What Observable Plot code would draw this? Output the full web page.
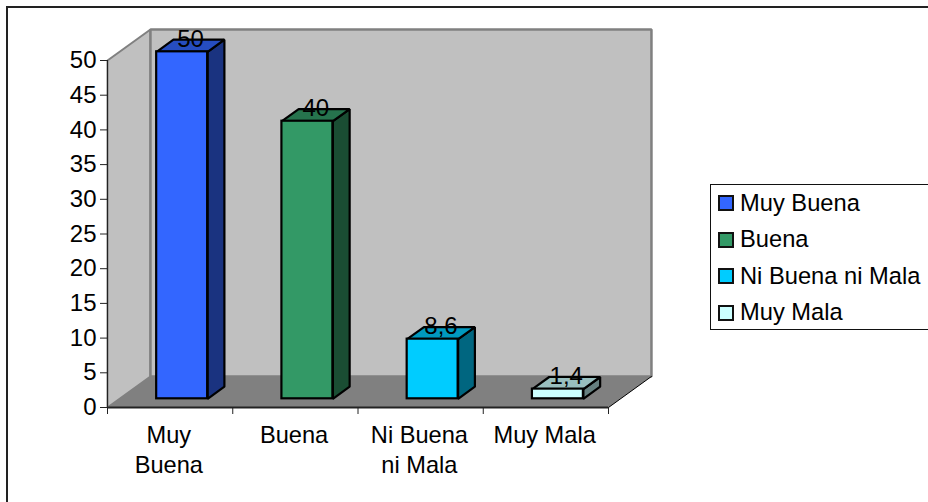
<!DOCTYPE html>
<html>
<head>
<meta charset="utf-8">
<script src="https://cdn.jsdelivr.net/npm/d3@7"></script>
<script src="https://cdn.jsdelivr.net/npm/@observablehq/plot@0.6"></script>
<style>
  html, body { margin: 0; padding: 0; background: #fff; overflow: hidden; width: 928px; height: 502px; }
  #stage { position: relative; width: 928px; height: 502px; font-family: "Liberation Sans", Arial, sans-serif; color: #000; }
  #frame { position: absolute; left: 6px; top: 6px; width: 940px; height: 520px; border-left: 2px solid #222; border-top: 2px solid #222; box-sizing: border-box; }
  #legend { position: absolute; left: 710px; top: 184px; width: 240px; height: 146px; border: 1px solid #111; box-sizing: border-box; background: #fff; }
  .row { position: absolute; left: 7px; height: 20px; display: flex; align-items: center; font-size: 23.7px; white-space: nowrap; }
  .sw { width: 16px; height: 16px; border: 2px solid #111; box-sizing: border-box; margin-right: 6px; }
  svg { position: absolute; left: 0; top: 0; }
</style>
</head>
<body>
<div id="stage"><div id="frame"></div></div>
<script>
const categories = ["Muy Buena", "Buena", "Ni Buena ni Mala", "Muy Mala"];
const axisLabels = ["Muy\nBuena", "Buena", "Ni Buena\nni Mala", "Muy Mala"];
const values = [50, 40, 8.6, 1.4];
const valueLabels = ["50", "40", "8,6", "1,4"];
const colors = ["#3366ff", "#339966", "#00ccff", "#ccffff"];
const yTicks = [0, 5, 10, 15, 20, 25, 30, 35, 40, 45, 50];
const xTicks = [0, 1, 2, 3, 4];

const depthX = 0.343, depthY = 4.47;
const barStart = 0.28, barDepth = 0.39, barWidth = 0.407;

const shade = (c, k) => { const r = d3.rgb(c); return d3.rgb(r.r * k, r.g * k, r.b * k).formatHex(); };
const poly = (pts, fill, stroke, strokeWidth) => Plot.line(pts, {
  x: d => d[0], y: d => d[1], fill, stroke, strokeWidth, curve: "linear-closed", strokeLinejoin: "miter"
});

const barMarks = values.flatMap((v, i) => {
  const x0 = i + 0.5 - barWidth / 2 + barStart * depthX;
  const x1 = x0 + barWidth;
  const y0 = barStart * depthY;
  const yT = v + y0;
  const dx = barDepth * depthX, dy = barDepth * depthY;
  const c = colors[i];
  return [
    poly([[x1, y0], [x1 + dx, y0 + dy], [x1 + dx, yT + dy], [x1, yT]], shade(c, 0.5), "#000", 2.2),
    poly([[x0, yT], [x1, yT], [x1 + dx, yT + dy], [x0 + dx, yT + dy]], shade(c, 0.75), "#000", 2.2),
    Plot.rect([v], { x1: x0, x2: x1, y1: y0, y2: yT, fill: c, stroke: "#000", strokeWidth: 2.2 })
  ];
});

const chart = Plot.plot({
  width: 928, height: 502,
  margin: 0,
  style: { background: "transparent", fontFamily: "Liberation Sans, Arial, sans-serif", color: "#000" },
  x: { domain: [0, 4], range: [107, 608] },
  y: { domain: [0, 50], range: [407, 60] },
  marks: [
    poly([[0, 0], [depthX, depthY], [depthX, 50 + depthY], [0, 50]], "#c0c0c0", "#808080", 2),
    poly([[depthX, depthY], [4 + depthX, depthY], [4 + depthX, 50 + depthY], [depthX, 50 + depthY]], "#c0c0c0", "#808080", 2.5),
    poly([[0, 0], [4, 0], [4 + depthX, depthY], [depthX, depthY]], "#808080", "none", 0),
    Plot.line([[4, 0], [4 + depthX, depthY]], { x: d => d[0], y: d => d[1], stroke: "#000", strokeWidth: 1 }),
    Plot.ruleX([0], { y1: 0, y2: 50, stroke: "#222", strokeWidth: 1 }),
    Plot.ruleY([0], { x1: 0, x2: 4, stroke: "#222", strokeWidth: 2 }),
    Plot.axisY(yTicks, { anchor: "left", x: 0, tickSize: 7, tickPadding: 4, fontSize: 24, fill: "#000", label: null, stroke: "#222" }),
    Plot.axisX(xTicks, { anchor: "bottom", y: 0, tickSize: 7, tickFormat: () => "", label: null, stroke: "#222" }),
    ...barMarks,
    Plot.text(values, {
      x: (v, i) => i + 0.5 + (barStart + barDepth / 2) * depthX,
      y: v => v + barStart * depthY,
      text: (v, i) => valueLabels[i],
      fontSize: 24, fill: "#000", lineAnchor: "bottom", dy: -5
    }),
    Plot.text(axisLabels, {
      x: (d, i) => i + 0.49, y: 0, text: d => d, fontSize: 23.6, fill: "#000",
      lineAnchor: "top", lineHeight: 1.25, dy: 15
    })
  ]
});
const stage = document.getElementById("stage");
stage.appendChild(chart);

const legend = document.createElement("div");
legend.id = "legend";
categories.forEach((c, i) => {
  const row = document.createElement("div");
  row.className = "row";
  row.style.top = (8 + i * 36.5) + "px";
  const sw = document.createElement("div");
  sw.className = "sw";
  sw.style.background = colors[i];
  const t = document.createElement("span");
  t.textContent = c;
  row.append(sw, t);
  legend.appendChild(row);
});
stage.appendChild(legend);
</script>
</body>
</html>
